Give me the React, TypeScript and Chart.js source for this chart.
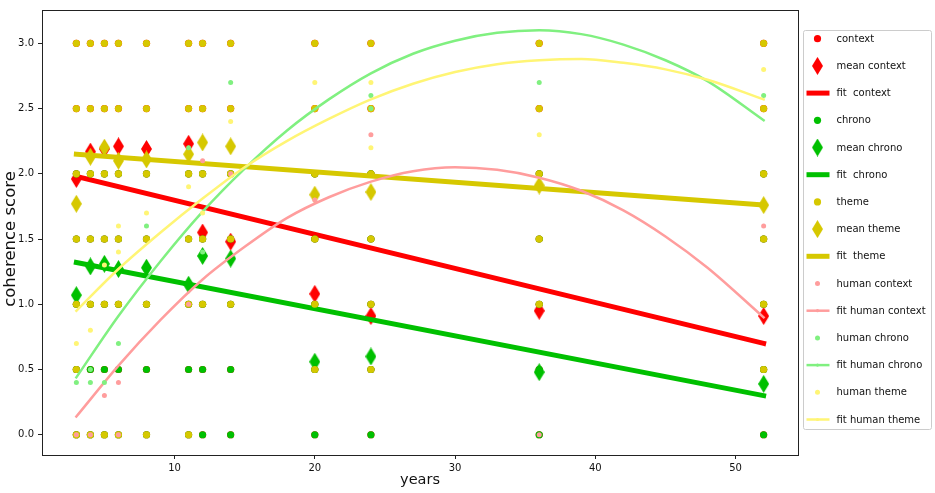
import { useEffect, useRef } from 'react';
import { Chart, registerables } from 'chart.js';

Chart.register(...registerables);
Chart.defaults.font.family = '"DejaVu Sans", sans-serif';

// x positions (years) shared by all scatter series
const years = [3, 4, 5, 6, 8, 11, 12, 14, 20, 24, 36, 52];

// raw model scores per year (context / chrono mostly hidden under the theme dots)
const contextScores = [
  [0, 0.5, 1, 1.5, 2, 2.5, 3], [0, 0.5, 1, 1.5, 2, 2.5, 3], [0, 0.5, 1, 1.5, 2, 2.5, 3],
  [0, 0.5, 1, 1.5, 2, 2.5, 3], [0, 0.5, 1, 1.5, 2, 2.5, 3], [0, 0.5, 1, 1.5, 2, 2.5, 3],
  [0, 0.5, 1, 1.5, 2, 2.5, 3], [0, 0.5, 1, 1.5, 2, 2.5, 3], [0, 0.5, 1, 1.5, 2, 2.5, 3],
  [0, 0.5, 1, 1.5, 2, 2.5, 3], [0, 0.5, 1, 1.5, 2, 2.5, 3], [0, 0.5, 1, 1.5, 2, 2.5, 3],
];
const chronoScores = [
  [0, 0.5, 1, 1.5, 2], [0, 0.5, 1, 1.5, 2], [0, 0.5, 1, 1.5, 2], [0, 0.5, 1, 1.5, 2],
  [0, 0.5, 1, 1.5, 2], [0, 0.5, 1, 1.5, 2], [0, 0.5, 1, 1.5, 2], [0, 0.5, 1, 1.5, 2],
  [0, 0.5, 1, 1.5, 2], [0, 0.5, 1, 1.5, 2], [0, 0.5, 1, 1.5, 2], [0, 0.5, 1, 1.5, 2],
];
const themeScores = [
  [0, 0.5, 1, 1.5, 2, 2.5, 3], [0, 1, 1.5, 2, 2.5, 3], [0, 1, 1.5, 2, 2.5, 3],
  [0, 1, 1.5, 2, 2.5, 3], [0, 1, 1.5, 2, 2.5, 3], [0, 1, 1.5, 2, 2.5, 3],
  [1, 1.5, 2, 2.5, 3], [1, 1.5, 2, 2.5, 3], [0.5, 1, 1.5, 2, 2.5, 3],
  [0.5, 1, 1.5, 2, 2.5, 3], [1, 1.5, 2, 2.5, 3], [0.5, 1, 1.5, 2, 2.5, 3],
];

const meanContext = [1.96, 2.17, 2.19, 2.21, 2.19, 2.23, 1.55, 1.48, 1.08, 0.91, 0.95, 0.91];
const meanChrono = [1.07, 1.29, 1.31, 1.27, 1.28, 1.15, 1.37, 1.35, 0.56, 0.6, 0.48, 0.39];
const meanTheme = [1.77, 2.13, 2.2, 2.1, 2.11, 2.15, 2.24, 2.21, 1.84, 1.86, 1.91, 1.76];

// human judgements per year
const humanContext = [[0], [0], [0.3], [0.4, 0], [], [1.0], [2.1], [2.0], [1.8], [2.3], [0], [1.6]];
const humanChrono = [[0.4], [0.5, 0.4], [0.4], [0.7], [1.6], [2.2], [1.4], [2.7], [], [2.6, 2.5], [2.7], [2.6]];
const humanTheme = [[0.7], [0.8], [1.3], [1.6, 1.4], [1.7], [1.9], [1.7], [2.4], [2.7], [2.7, 2.2], [2.3], [2.8]];

// linear fits
const fitYears = [3, 52];
const fitContext = [1.98, 0.7];
const fitChrono = [1.32, 0.3];
const fitTheme = [2.15, 1.76];

// quadratic fits of the human scores
const curveYears = [3, 6, 9, 12, 15, 18, 21, 24, 27, 30, 33, 36, 39, 42, 45, 48, 52];
const fitHumanContext = [0.14, 0.53, 0.88, 1.19, 1.44, 1.66, 1.82, 1.94, 2.02, 2.05, 2.03, 1.97, 1.87, 1.72, 1.52, 1.28, 0.9];
const fitHumanChrono = [0.44, 0.91, 1.33, 1.71, 2.04, 2.33, 2.57, 2.77, 2.92, 3.02, 3.08, 3.1, 3.07, 2.99, 2.87, 2.71, 2.41];
const fitHumanTheme = [0.95, 1.27, 1.55, 1.81, 2.05, 2.25, 2.42, 2.57, 2.69, 2.78, 2.84, 2.87, 2.88, 2.85, 2.8, 2.72, 2.57];

const xTicks = [10, 20, 30, 40, 50];
const yTicks = [0, 0.5, 1, 1.5, 2, 2.5, 3];

const RED = '#ff0000';
const GREEN = '#00c000';
const OLIVE = '#d6c800';
const PINK = '#ff9d9d';
const LIGHT_GREEN = '#80f080';
const LIGHT_YELLOW = '#fff575';

type Kind = 'dot' | 'small' | 'diamond' | 'thick' | 'thin';
const legendLabels = [
  'context', 'mean context', 'fit  context',
  'chrono', 'mean chrono', 'fit  chrono',
  'theme', 'mean theme', 'fit  theme',
  'human context', 'fit human context',
  'human chrono', 'fit human chrono',
  'human theme', 'fit human theme',
];
const legendKinds: Kind[] = [
  'dot', 'diamond', 'thick', 'dot', 'diamond', 'thick', 'dot', 'diamond', 'thick',
  'small', 'thin', 'small', 'thin', 'small', 'thin',
];
const legendColors = [
  RED, RED, RED, GREEN, GREEN, GREEN, OLIVE, OLIVE, OLIVE,
  PINK, PINK, LIGHT_GREEN, LIGHT_GREEN, LIGHT_YELLOW, LIGHT_YELLOW,
];

function spread(xs: number[], lists: number[][]) {
  return xs.flatMap((x, i) => lists[i].map((y) => ({ x, y })));
}

function pair(xs: number[], ys: number[]) {
  return xs.map((x, i) => ({ x, y: ys[i] }));
}

function makeDiamond(color: string) {
  const c = document.createElement('canvas');
  c.width = 11;
  c.height = 18;
  const g = c.getContext('2d')!;
  g.fillStyle = color;
  g.beginPath();
  g.moveTo(5.5, 0);
  g.lineTo(11, 9);
  g.lineTo(5.5, 18);
  g.lineTo(0, 9);
  g.closePath();
  g.fill();
  return c;
}

export default function App() {
  const canvasRef = useRef<HTMLCanvasElement>(null);

  useEffect(() => {
    document.body.style.margin = '0';
    if (!canvasRef.current) return;

    const diamonds: Record<string, HTMLCanvasElement> = {
      [RED]: makeDiamond(RED),
      [GREEN]: makeDiamond(GREEN),
      [OLIVE]: makeDiamond(OLIVE),
    };

    const dots = (label: string, data: { x: number; y: number }[], color: string, r: number) => ({
      label, data, backgroundColor: color, borderColor: color, borderWidth: 0,
      pointRadius: r, pointHoverRadius: r,
    });
    const means = (label: string, ys: number[], color: string) => ({
      label, data: pair(years, ys), pointStyle: diamonds[color], pointRadius: 8,
      backgroundColor: color, borderColor: color,
    });
    const line = (label: string, xs: number[], ys: number[], color: string, w: number) => ({
      label, data: pair(xs, ys), showLine: true, pointRadius: 0, borderColor: color,
      backgroundColor: color, borderWidth: w, borderCapStyle: 'square' as const,
      cubicInterpolationMode: 'monotone' as const, fill: false,
    });

    const list: any[] = [
      dots('context', spread(years, contextScores), RED, 3.6),
      means('mean context', meanContext, RED),
      line('fit  context', fitYears, fitContext, RED, 5),
      dots('chrono', spread(years, chronoScores), GREEN, 3.6),
      means('mean chrono', meanChrono, GREEN),
      line('fit  chrono', fitYears, fitChrono, GREEN, 5),
      dots('theme', spread(years, themeScores), OLIVE, 3.6),
      means('mean theme', meanTheme, OLIVE),
      line('fit  theme', fitYears, fitTheme, OLIVE, 5),
      dots('human context', spread(years, humanContext), PINK, 2.5),
      line('fit human context', curveYears, fitHumanContext, PINK, 2.5),
      dots('human chrono', spread(years, humanChrono), LIGHT_GREEN, 2.5),
      line('fit human chrono', curveYears, fitHumanChrono, LIGHT_GREEN, 2.5),
      dots('human theme', spread(years, humanTheme), LIGHT_YELLOW, 2.5),
      line('fit human theme', curveYears, fitHumanTheme, LIGHT_YELLOW, 2.5),
    ];
    // later series are painted on top, like the original plot
    const datasets = list.map((d, i) => ({ ...d, order: list.length - i }));

    const framePlugin = {
      id: 'frameAndLegend',
      afterDraw(chart: Chart) {
        const ctx = chart.ctx;
        const { left, top, right, bottom } = chart.chartArea;
        ctx.save();
        ctx.strokeStyle = '#222';
        ctx.lineWidth = 1;
        ctx.strokeRect(Math.round(left) + 0.5, Math.round(top) + 0.5, Math.round(right - left), Math.round(bottom - top));

        // y axis label, sits a little below the axes' middle in the original
        ctx.save();
        ctx.translate(14.5, 239);
        ctx.rotate(-Math.PI / 2);
        ctx.font = '16.5px "DejaVu Sans"';
        ctx.fillStyle = '#111';
        ctx.textAlign = 'center';
        ctx.textBaseline = 'alphabetic';
        ctx.fillText('coherence score', 0, 0);
        ctx.restore();

        // legend box outside the axes
        const bx = right + 5.5;
        const by = 30.5;
        const bw = 128;
        const bh = 399;
        ctx.fillStyle = 'rgba(255,255,255,0.8)';
        ctx.strokeStyle = '#cccccc';
        ctx.lineWidth = 1;
        ctx.beginPath();
        ctx.roundRect(bx, by, bw, bh, 2);
        ctx.fill();
        ctx.stroke();

        const mx = bx + 14;
        ctx.font = '10px "DejaVu Sans"';
        ctx.textBaseline = 'middle';
        ctx.textAlign = 'left';
        legendLabels.forEach((label, i) => {
          const y = 38.7 + i * 27.2;
          const color = legendColors[i];
          const kind = legendKinds[i];
          ctx.fillStyle = color;
          ctx.strokeStyle = color;
          if (kind === 'dot' || kind === 'small') {
            ctx.beginPath();
            ctx.arc(mx, y, kind === 'dot' ? 3.6 : 2.5, 0, Math.PI * 2);
            ctx.fill();
          } else if (kind === 'diamond') {
            const d = diamonds[color];
            ctx.drawImage(d, mx - d.width / 2, y - d.height / 2);
          } else {
            ctx.lineWidth = kind === 'thick' ? 5 : 2.5;
            ctx.beginPath();
            ctx.moveTo(bx + 3, y);
            ctx.lineTo(bx + 26, y);
            ctx.stroke();
            if (kind === 'thin') {
              ctx.beginPath();
              ctx.arc(mx, y, 1.6, 0, Math.PI * 2);
              ctx.fill();
            }
          }
          ctx.fillStyle = '#111';
          ctx.fillText(label, bx + 33, y + 0.5);
        });
        ctx.restore();
      },
    };

    const chart = new Chart(canvasRef.current, {
      type: 'scatter',
      data: { datasets },
      options: {
        animation: false,
        responsive: true,
        maintainAspectRatio: false,
        layout: { padding: { top: 3, right: 137, left: 0, bottom: 0 } },
        plugins: { legend: { display: false }, tooltip: { enabled: false } },
        scales: {
          x: {
            type: 'linear',
            min: 0.55,
            max: 54.45,
            afterBuildTicks: (s: any) => { s.ticks = xTicks.map((v) => ({ value: v })); },
            afterFit: (s: any) => { s.height = 38; },
            grid: { drawOnChartArea: false, tickLength: 4, color: '#222' },
            border: { display: false },
            ticks: { font: { size: 10 }, color: '#111', padding: 3, maxRotation: 0, autoSkip: false },
            title: { display: true, text: 'years', font: { size: 14.5 }, color: '#111', padding: { top: 0, bottom: 4 } },
          },
          y: {
            type: 'linear',
            min: -0.155,
            max: 3.255,
            afterBuildTicks: (s: any) => { s.ticks = yTicks.map((v) => ({ value: v })); },
            afterFit: (s: any) => { s.width = 42; },
            grid: { drawOnChartArea: false, tickLength: 4, color: '#222' },
            border: { display: false },
            ticks: {
              font: { size: 10 }, color: '#111', padding: 4, autoSkip: false,
              callback: (v: any) => Number(v).toFixed(1),
            },
            title: { display: false },
          },
        },
      },
      plugins: [framePlugin],
    });

    return () => {
      chart.destroy();
    };
  }, []);

  return (
    <div style={{ position: 'relative', width: '935px', height: '493px' }}>
      <canvas ref={canvasRef} />
    </div>
  );
}
